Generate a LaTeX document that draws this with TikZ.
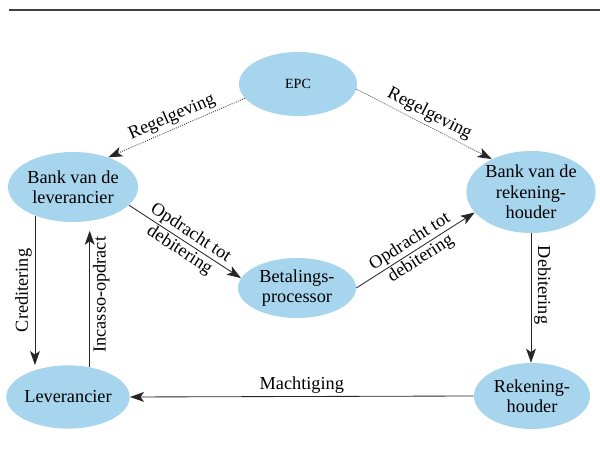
\documentclass[tikz,border=0pt]{standalone}
\usepackage{fontspec}
\setmainfont{Liberation Serif}
\usepackage{xcolor}
\usetikzlibrary{shapes,arrows.meta,positioning,calc}

\definecolor{bubble}{RGB}{167,213,238}

\begin{document}
\begin{tikzpicture}[x=0.025cm, y=-0.025cm,
    party/.style={ellipse, fill=bubble, align=center, inner sep=0pt, font=\fontsize{13}{14.5}\selectfont},
    flow/.style={-{Stealth[length=10pt,width=7pt,inset=2.5pt]}, line width=0.6pt, black!85},
    rules/.style={flow, densely dotted},
    lbl/.style={font=\fontsize{13}{14.5}\selectfont, inner sep=2pt, text=black}]
\useasboundingbox (0,0) rectangle (600,457);
\draw[line width=1.4pt, black!75] (9,10) -- (600,10);

% parties
\node[party, minimum width=2.95cm, minimum height=1.6cm] (epc) at (298,84) {\fontsize{10}{12}\selectfont EPC};
\node[party, minimum width=3.25cm, minimum height=1.75cm] (banklev) at (73,187) {Bank van de\\leverancier};
\node[party, minimum width=3.15cm, minimum height=2.05cm] (bankrek) at (531,192) {Bank van de\\rekening-\\houder};
\node[party, minimum width=2.95cm, minimum height=1.5cm] (proc) at (297,288) {Betalings-\\processor};
\node[party, minimum width=3.0cm, minimum height=1.58cm] (lev) at (68,397) {Leverancier};
\node[party, minimum width=2.9cm, minimum height=1.65cm] (rek) at (532,396) {Rekening-\\houder};

% flows
\draw[rules] (epc.195) -- node[lbl, above, sloped] {Regelgeving} (banklev.40);
\draw[rules] (epc.-5) -- node[lbl, above, sloped] {Regelgeving} (bankrek.140);
\draw[flow] (banklev.-18) -- node[lbl, sloped, align=center] {Opdracht tot\\debitering} (proc.170);
\draw[flow] (proc.0) -- node[lbl, sloped, align=center] {Opdracht tot\\debitering} (bankrek.200);
\draw[flow] (banklev.217) -- node[lbl, rotate=90, above] {Creditering} (banklev.217 |- lev.north);
\draw[flow, shorten >=6pt] (lev.54) -- node[lbl, rotate=90, below] {Incasso-opdract} (lev.54 |- banklev.south);
\draw[flow] (bankrek.south) -- node[lbl, rotate=-90, above, pos=0.4] {Debitering} (bankrek.south |- rek.north);
\draw[flow] (rek.west) -- node[lbl, above] {Machtiging} (lev.east);
\end{tikzpicture}
\end{document}
